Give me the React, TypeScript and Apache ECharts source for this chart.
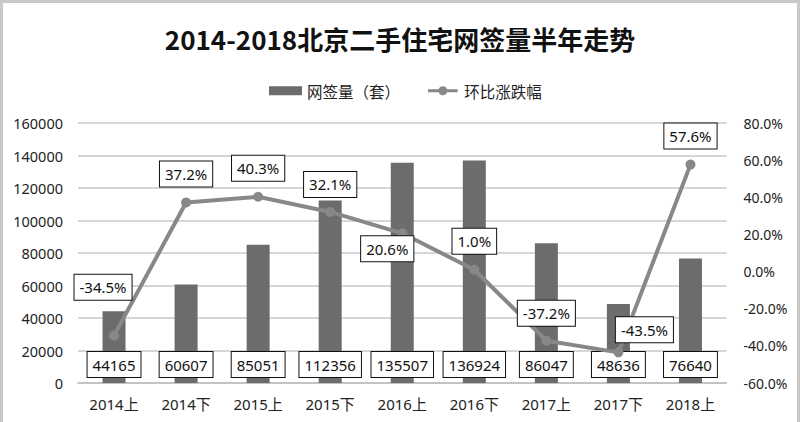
import React, { useEffect, useRef } from "react";
import * as echarts from "echarts";

const categories = ["2014上", "2014下", "2015上", "2015下", "2016上", "2016下", "2017上", "2017下", "2018上"];
const signings = [44165, 60607, 85051, 112356, 135507, 136924, 86047, 48636, 76640];
const changes = [-34.5, 37.2, 40.3, 32.1, 20.6, 1.0, -37.2, -43.5, 57.6];
const leftTicks = { min: 0, max: 160000, interval: 20000 };
const rightTicks = { min: -60, max: 80, interval: 20 };
// label placement tweaks for the line labels (pixels)
const lineLabelOffsets: [number, number][] = [
  [-11, -26], [0, -6], [0, -6], [0, -5], [-15, 38], [0, -6], [0, -5], [26, 0], [0, -6],
];

const FONT = '"Noto Sans", "Noto Sans CJK SC", sans-serif';
const LINE_ICON = "path://M0,3.4H33V6.6H0Z M16.5,0A5,5,0,1,1,16.5,10A5,5,0,1,1,16.5,0Z";

export default function App() {
  const ref = useRef<HTMLDivElement>(null);
  useEffect(() => {
    document.body.style.margin = "0";
    if (!ref.current) return;
    const chart = echarts.init(ref.current, undefined, { renderer: "svg" });
    const boxLabel = {
      backgroundColor: "#fff",
      borderColor: "#111",
      borderWidth: 1,
      padding: [3, 5],
      fontSize: 15,
      lineHeight: 19,
      color: "#111",
      fontFamily: FONT,
    };
    chart.setOption({
      animation: false,
      backgroundColor: "#fff",
      textStyle: { fontFamily: FONT },
      title: {
        text: "2014-2018北京二手住宅网签量半年走势",
        left: "center",
        top: 20,
        textStyle: { fontSize: 26, fontWeight: "bold", color: "#111", fontFamily: '"Noto Sans CJK SC", sans-serif' },
      },
      graphic: [
        {
          type: "rect",
          shape: { x: 1.5, y: 1.5, width: 797, height: 440 },
          style: { fill: "none", stroke: "#c8c8c8", lineWidth: 3 },
          silent: true,
        },
      ],
      legend: {
        left: 264,
        top: 78,
        itemWidth: 33,
        itemHeight: 9,
        itemGap: 28,
        textStyle: { fontSize: 15.5, color: "#222", fontFamily: '"Noto Sans CJK SC", sans-serif' },
        data: [
          { name: "网签量（套）", icon: "rect" },
          { name: "环比涨跌幅", icon: LINE_ICON, itemStyle: { color: "#888" }, lineStyle: { width: 0 } },
        ],
      },
      grid: { left: 78, right: 73.5, top: 123, bottom: 39 },
      xAxis: {
        type: "category",
        data: categories,
        axisTick: { show: false },
        axisLine: { lineStyle: { color: "#bdbdbd", width: 1.5 } },
        axisLabel: { fontSize: 15, color: "#222", margin: 13 },
      },
      yAxis: [
        {
          type: "value",
          ...leftTicks,
          axisLine: { show: false },
          axisTick: { show: false },
          axisLabel: { fontSize: 14.5, color: "#222", margin: 15, formatter: (v: number) => String(v) },
          splitLine: { lineStyle: { color: "#c8c8c8", width: 1.5 } },
        },
        {
          type: "value",
          ...rightTicks,
          axisLine: { show: false },
          axisTick: { show: false },
          axisLabel: { fontSize: 14, color: "#222", margin: 17, formatter: (v: number) => v.toFixed(1) + "%" },
          splitLine: { show: false },
        },
      ],
      series: [
        {
          name: "网签量（套）",
          type: "bar",
          data: signings,
          barWidth: 23,
          itemStyle: { color: "#6c6c6c" },
          label: { show: true, position: "insideBottom", distance: 6, ...boxLabel },
          z: 2,
        },
        {
          name: "环比涨跌幅",
          type: "line",
          yAxisIndex: 1,
          data: changes.map((v, i) => ({
            value: v,
            label: { offset: lineLabelOffsets[i] },
          })),
          symbol: "circle",
          symbolSize: 10,
          lineStyle: { color: "#888", width: 4 },
          itemStyle: { color: "#888" },
          label: {
            show: true,
            position: "top",
            distance: 5,
            formatter: (p: any) => Number(p.value).toFixed(1) + "%",
            ...boxLabel,
          },
          z: 3,
        },
      ],
    });
    return () => chart.dispose();
  }, []);
  return <div ref={ref} style={{ width: 800, height: 422 }} />;
}
